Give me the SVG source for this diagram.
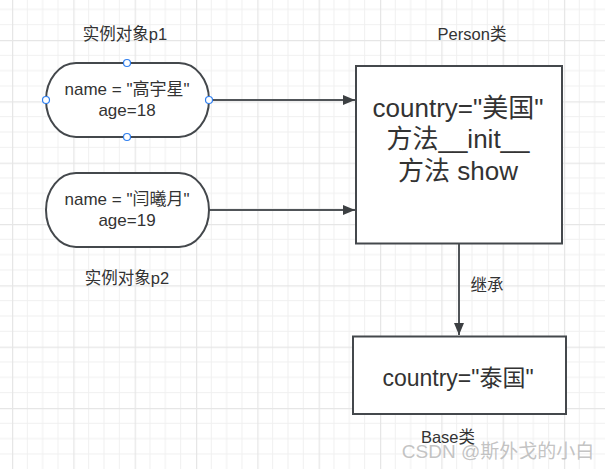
<svg xmlns="http://www.w3.org/2000/svg" width="605" height="469" viewBox="0 0 605 469">
<defs>
<pattern id="grid" x="12" y="40" width="61.33" height="61.33" patternUnits="userSpaceOnUse">
<path d="M15.33 0V61.33M30.67 0V61.33M46 0V61.33M0 15.33H61.33M0 30.67H61.33M0 46H61.33" stroke="#f0f0f0" stroke-width="1" fill="none"/>
<path d="M0.5 0V61.33M0 0.5H61.33" stroke="#e6e6e6" stroke-width="1.5" fill="none"/>
</pattern>
<marker id="arr" viewBox="0 0 12 10" refX="12" refY="5" markerWidth="12" markerHeight="10" markerUnits="userSpaceOnUse" orient="auto">
<path d="M0 0L12 5L0 10Z" fill="#3c3f42"/>
</marker>
<style>
text{font-family:"Liberation Sans","Noto Sans CJK SC",sans-serif;fill:#333;text-anchor:middle}
.shape{fill:#fff;stroke:#44484c;stroke-width:2}
.lbl{font-size:16.5px}
.ntxt{font-size:17px}
.big{font-size:26px}
.edge{stroke:#505458;stroke-width:2;fill:none}
.h{fill:#fff;stroke:#2f7ff0;stroke-width:1.2}
</style>
</defs>
<rect width="605" height="469" fill="#fff"/>
<rect width="605" height="469" fill="url(#grid)"/>
<g id="connectors">
<line class="edge" x1="209" y1="100" x2="355" y2="100" marker-end="url(#arr)"/>
<line class="edge" x1="209" y1="210" x2="355" y2="210" marker-end="url(#arr)"/>
<line class="edge" x1="459" y1="244" x2="459" y2="335" marker-end="url(#arr)"/>
<text class="lbl" x="487" y="291">继承</text>
</g>
<g id="p1">
<text class="lbl" x="125" y="40">实例对象p1</text>
<rect class="shape" x="46" y="63" width="163" height="74" rx="30" ry="37"/>
<text class="ntxt" x="127" y="95">name = "高宇星"</text>
<text class="ntxt" x="127" y="116">age=18</text>
<circle class="h" cx="46" cy="100" r="3.5"/>
<circle class="h" cx="209" cy="100" r="3.5"/>
<circle class="h" cx="127" cy="63" r="3.5"/>
<circle class="h" cx="127" cy="137" r="3.5"/>
</g>
<g id="p2">
<rect class="shape" x="46" y="173" width="163" height="74" rx="30" ry="37"/>
<text class="ntxt" x="127" y="205">name = "闫曦月"</text>
<text class="ntxt" x="127" y="226">age=19</text>
<text class="lbl" x="127" y="284">实例对象p2</text>
</g>
<g id="person">
<text class="lbl" x="472" y="40">Person类</text>
<rect class="shape" x="356" y="66" width="206" height="177.5"/>
<text class="big" x="458" y="117">country="美国"</text>
<text class="big" x="458" y="148">方法__init__</text>
<text class="big" x="458" y="180">方法 show</text>
</g>
<g id="base">
<rect class="shape" x="353" y="336.5" width="213" height="77.5"/>
<text class="big" x="458" y="386" style="font-size:23px">country="泰国"</text>
<text class="lbl" x="448" y="443">Base类</text>
</g>
<text x="498" y="458" style="font-size:19px;fill:#b4b4b4;fill-opacity:0.8">CSDN @斯外戈的小白</text>
</svg>
